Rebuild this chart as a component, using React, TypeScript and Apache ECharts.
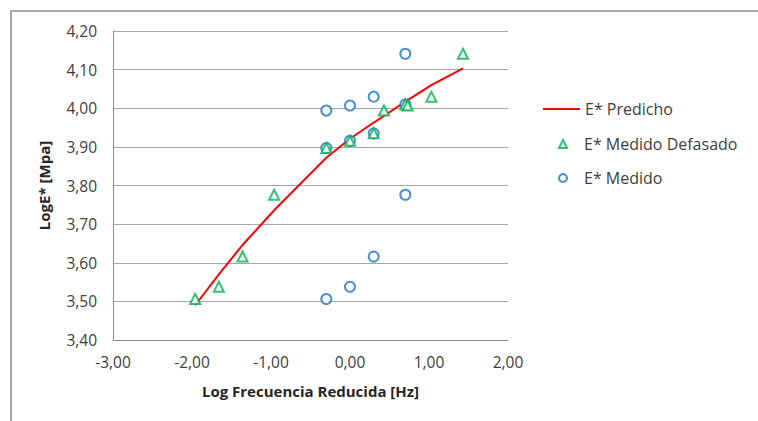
import React, { useEffect, useRef } from "react";
import * as echarts from "echarts";

const predX = [-1.96, -1.66, -1.36, -0.96, -0.3, 0.0, 0.3, 0.43, 0.7, 0.73, 1.03, 1.43];
const predY = [3.49, 3.57, 3.646, 3.736, 3.872, 3.921, 3.963, 3.98, 4.017, 4.021, 4.06, 4.103];

const shiftedX = [-1.96, -1.66, -1.36, -0.96, -0.3, 0.0, 0.3, 0.7, 0.43, 0.73, 1.03, 1.43];
const shiftedY = [3.506, 3.538, 3.616, 3.776, 3.897, 3.916, 3.935, 4.01, 3.994, 4.007, 4.03, 4.141];

const measX = [-0.3, 0.0, 0.3, 0.7, -0.3, 0.0, 0.3, 0.7, -0.3, 0.0, 0.3, 0.7];
const measY = [3.506, 3.538, 3.616, 3.776, 3.897, 3.916, 3.935, 4.01, 3.994, 4.007, 4.03, 4.141];

const seriesNames = ["E* Predicho", "E* Medido Defasado", "E* Medido"];
const xTitle = "Log Frecuencia Reducida [Hz]";
const yTitle = "LogE* [Mpa]";

const zip = (xs: number[], ys: number[]) => xs.map((x, i) => [x, ys[i]]);
const fmt = (v: number) => v.toFixed(2).replace(".", ",");

const FONT = "Open Sans";

export default function App() {
  const ref = useRef<HTMLDivElement>(null);
  useEffect(() => {
    if (!ref.current) return;
    const chart = echarts.init(ref.current, null, { renderer: "svg" });
    const legendText = { fontFamily: FONT, fontSize: 16, color: "#404040" };
    const symText = { ...legendText, padding: [0, 0, 0, 12] };
    chart.setOption({
      animation: false,
      backgroundColor: "#ffffff",
      grid: { left: 113, right: 250, top: 31, bottom: 81 },
      graphic: [
        {
          type: "rect",
          shape: { x: 11, y: 11, width: 900, height: 600 },
          style: { fill: "none", stroke: "#8c8c8c", lineWidth: 1.5 },
          silent: true,
        },
      ],
      xAxis: {
        type: "value",
        min: -3,
        max: 2,
        interval: 1,
        name: xTitle,
        nameLocation: "middle",
        nameGap: 43,
        nameTextStyle: { fontFamily: FONT, fontSize: 15, fontWeight: "bold", color: "#262626" },
        axisLine: { show: true, onZero: false, lineStyle: { color: "#8c8c8c", width: 1 } },
        axisTick: { show: false },
        splitLine: { show: false },
        axisLabel: { formatter: fmt, fontFamily: FONT, fontSize: 15.5, color: "#404040", margin: 14 },
      },
      yAxis: {
        type: "value",
        min: 3.4,
        max: 4.2,
        interval: 0.1,
        name: yTitle,
        nameLocation: "middle",
        nameGap: 62,
        nameTextStyle: { fontFamily: FONT, fontSize: 15, fontWeight: "bold", color: "#262626" },
        axisLine: { show: true, onZero: false, lineStyle: { color: "#8c8c8c", width: 1 } },
        axisTick: { show: false },
        splitLine: { show: true, lineStyle: { color: "#a6a6a6", width: 1 } },
        axisLabel: { formatter: fmt, fontFamily: FONT, fontSize: 15.5, color: "#404040", margin: 16 },
      },
      legend: [
        {
          data: [seriesNames[0]],
          orient: "vertical",
          left: 543,
          top: 101,
          padding: 0,
          itemWidth: 37,
          itemHeight: 2,
          itemGap: 4,
          icon: "rect",
          textStyle: legendText,
        },
        {
          data: [{ name: seriesNames[1], icon: "emptyTriangle" }],
          orient: "vertical",
          left: 558,
          top: 136,
          padding: 0,
          itemWidth: 8,
          itemHeight: 8,
          itemGap: 4,
          textStyle: symText,
        },
        {
          data: [{ name: seriesNames[2], icon: "emptyCircle" }],
          orient: "vertical",
          left: 558,
          top: 170,
          padding: 0,
          itemWidth: 8,
          itemHeight: 8,
          itemGap: 4,
          textStyle: symText,
        },
      ],
      series: [
        {
          name: seriesNames[0],
          type: "line",
          data: zip(predX, predY),
          showSymbol: false,
          symbol: "none",
          lineStyle: { color: "#ff0000", width: 2 },
          itemStyle: { color: "#ff0000" },
          z: 1,
        },
        {
          name: seriesNames[1],
          type: "scatter",
          data: zip(shiftedX, shiftedY),
          symbol: "emptyTriangle",
          symbolSize: 10,
          itemStyle: { color: "#00b050", borderWidth: 2 },
          z: 3,
        },
        {
          name: seriesNames[2],
          type: "scatter",
          data: zip(measX, measY),
          symbol: "emptyCircle",
          symbolSize: 10,
          itemStyle: { color: "#1a75c4", borderWidth: 2 },
          z: 2,
        },
      ],
    });
    return () => chart.dispose();
  }, []);
  return (
    <div
      ref={ref}
      style={{ position: "fixed", left: 0, top: 0, width: 758, height: 421 }}
    />
  );
}
